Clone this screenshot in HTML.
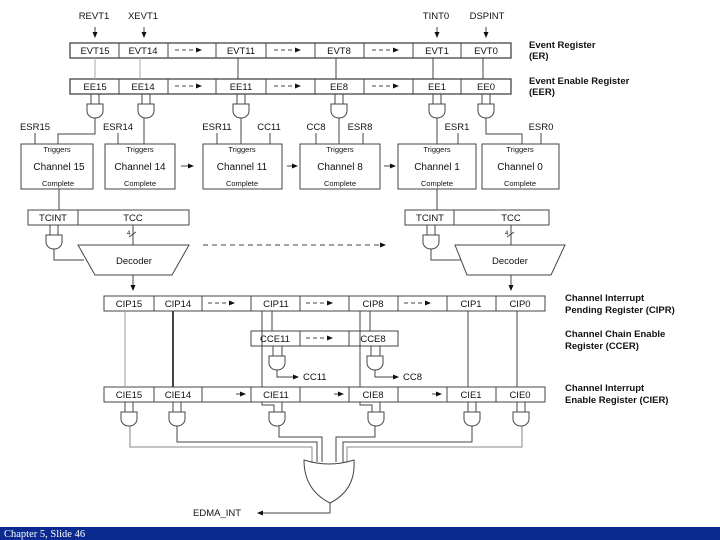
<!DOCTYPE html>
<html><head><meta charset="utf-8"><style>
html,body{margin:0;padding:0;background:#fff;}
svg{display:block;}
text{font-family:"Liberation Sans",Arial,sans-serif;fill:#111;}
.c{font-size:9.5px;text-anchor:middle;}
.s{font-size:7.5px;text-anchor:middle;}
.ch{font-size:10px;text-anchor:middle;}
.b{font-size:9.5px;font-weight:bold;}
</style></head><body>
<svg width="720" height="540" viewBox="0 0 720 540" xmlns="http://www.w3.org/2000/svg">
<defs>
<marker id="a" markerWidth="6" markerHeight="6" refX="5" refY="3" orient="auto"><path d="M0,0.5 L6,3 L0,5.5z" fill="#111"/></marker>
<g id="g"><path d="M-8,0 V7 A8,7 0 0 0 8,7 V0 Z" fill="#fff" stroke="#444" stroke-width="1"/></g>
</defs>
<g stroke="#444" fill="none" stroke-width="1">
<line x1="95" y1="27" x2="95" y2="37" marker-end="url(#a)"/>
<line x1="144" y1="27" x2="144" y2="37" marker-end="url(#a)"/>
<line x1="437" y1="27" x2="437" y2="37" marker-end="url(#a)"/>
<line x1="486" y1="27" x2="486" y2="37" marker-end="url(#a)"/>
<rect x="70" y="43" width="441" height="15" stroke-width="1.3"/>
<rect x="70" y="79" width="441" height="15" stroke-width="1.3"/>
<path d="M119,43V58M168,43V58M216,43V58M266,43V58M315,43V58M364,43V58M413,43V58M461,43V58"/>
<path d="M119,79V94M168,79V94M216,79V94M266,79V94M315,79V94M364,79V94M413,79V94M461,79V94"/>
<g stroke-dasharray="4,3">
<line x1="175" y1="50" x2="201" y2="50" marker-end="url(#a)"/>
<line x1="274" y1="50" x2="300" y2="50" marker-end="url(#a)"/>
<line x1="372" y1="50" x2="398" y2="50" marker-end="url(#a)"/>
<line x1="175" y1="86" x2="201" y2="86" marker-end="url(#a)"/>
<line x1="274" y1="86" x2="300" y2="86" marker-end="url(#a)"/>
<line x1="372" y1="86" x2="398" y2="86" marker-end="url(#a)"/>
</g>
<path d="M95,58V79M140,58V79" stroke="#aaa"/>
<path d="M238,58V79M336,58V79M433,58V79M483,58V79"/>
<path d="M91,94V104M99,94V104M142,94V104M150,94V104M237,94V104M245,94V104M335,94V104M343,94V104M433,94V104M441,94V104M482,94V104M490,94V104"/>
<path d="M95,118V134H58V144" />
<path d="M144,118V144"/>
<path d="M241,118V144"/>
<path d="M339,118V144"/>
<path d="M437,118V144"/>
<path d="M486,118V134H522V144"/>
<path d="M35,133V144M118,133V144M217,133V144M270,133V144M316,133V144M363,133V144M458,133V144M541,133V144"/>
<rect x="21" y="144" width="72" height="45"/>
<rect x="105" y="144" width="70" height="45"/>
<rect x="203" y="144" width="79" height="45"/>
<rect x="300" y="144" width="80" height="45"/>
<rect x="398" y="144" width="78" height="45"/>
<rect x="482" y="144" width="77" height="45"/>
<line x1="181" y1="166" x2="193" y2="166" marker-end="url(#a)"/>
<line x1="287" y1="166" x2="297" y2="166" marker-end="url(#a)"/>
<line x1="384" y1="166" x2="395" y2="166" marker-end="url(#a)"/>
<path d="M59,189V210M437,189V210"/>
<rect x="28" y="210" width="161" height="15"/>
<line x1="78" y1="210" x2="78" y2="225"/>
<rect x="405" y="210" width="144" height="15"/>
<line x1="454" y1="210" x2="454" y2="225"/>
<path d="M50,225V235M58,225V235M427,225V235M435,225V235"/>
<path d="M54,249V260H84M431,249V260H461"/>
<path d="M133,225V245M511,225V245"/>
<path d="M129,237l7,-5M507,237l7,-5"/>
<path d="M78,245H189L172,275H95Z"/>
<path d="M455,245H565L551,275H467Z"/>
<line x1="203" y1="245" x2="385" y2="245" stroke-dasharray="5,4" marker-end="url(#a)"/>
<line x1="133" y1="275" x2="133" y2="290" marker-end="url(#a)"/>
<line x1="511" y1="275" x2="511" y2="290" marker-end="url(#a)"/>
<rect x="104" y="296" width="441" height="15"/>
<path d="M154,296V311M202,296V311M251,296V311M300,296V311M349,296V311M398,296V311M447,296V311M496,296V311"/>
<g stroke-dasharray="4,3">
<line x1="208" y1="303" x2="234" y2="303" marker-end="url(#a)"/>
<line x1="306" y1="303" x2="332" y2="303" marker-end="url(#a)"/>
<line x1="404" y1="303" x2="430" y2="303" marker-end="url(#a)"/>
<line x1="306" y1="338" x2="332" y2="338" marker-end="url(#a)"/>
</g>
<rect x="251" y="331" width="147" height="15"/>
<path d="M300,331V346M349,331V346"/>
<rect x="104" y="387" width="441" height="15"/>
<path d="M154,387V402M202,387V402M251,387V402M300,387V402M349,387V402M398,387V402M447,387V402M496,387V402"/>
<line x1="236" y1="394" x2="245" y2="394" marker-end="url(#a)"/>
<line x1="334" y1="394" x2="343" y2="394" marker-end="url(#a)"/>
<line x1="432" y1="394" x2="441" y2="394" marker-end="url(#a)"/>
<path d="M125,311V387" stroke="#999"/>
<path d="M173,311V387" stroke-width="2"/>
<path d="M262,311V387M272,311V331M360,311V387M370,311V331M468,311V387M517,311V387"/>
<path d="M273,346V356M282,346V356M371,346V356M380,346V356"/>
<path d="M277,370V377H298" marker-end="url(#a)"/>
<path d="M375,370V377H398" marker-end="url(#a)"/>
<path d="M125,402V412M133,402V412M173,402V412M181,402V412M262,402V405H274V412M282,402V412M360,402V405H372V412M380,402V412M468,402V412M476,402V412M517,402V412M525,402V412"/>
<path d="M130,426V447H312V462" stroke="#888"/>
<path d="M177,426V442H317V462"/>
<path d="M279,426V437H322V462"/>
<path d="M375,426V437H336V462"/>
<path d="M472,426V442H343V462"/>
<path d="M522,426V447H347V462" stroke="#888"/>
<path d="M304,460 Q329,468 354,460 Q356,490 330,503 Q304,490 304,460Z" fill="#fff"/>
<path d="M330,503V513H258" marker-end="url(#a)"/>
</g>
<use href="#g" x="95" y="104"/><use href="#g" x="146" y="104"/><use href="#g" x="241" y="104"/>
<use href="#g" x="339" y="104"/><use href="#g" x="437" y="104"/><use href="#g" x="486" y="104"/>
<use href="#g" x="54" y="235"/><use href="#g" x="431" y="235"/>
<use href="#g" x="277" y="356"/><use href="#g" x="375" y="356"/>
<use href="#g" x="129" y="412"/><use href="#g" x="177" y="412"/><use href="#g" x="277" y="412"/>
<use href="#g" x="376" y="412"/><use href="#g" x="472" y="412"/><use href="#g" x="521" y="412"/>
<text class="c" x="94" y="19">REVT1</text><text class="c" x="143" y="19">XEVT1</text>
<text class="c" x="436" y="19">TINT0</text><text class="c" x="487" y="19">DSPINT</text>
<text class="c" x="95" y="54">EVT15</text><text class="c" x="143" y="54">EVT14</text><text class="c" x="241" y="54">EVT11</text><text class="c" x="339" y="54">EVT8</text><text class="c" x="437" y="54">EVT1</text><text class="c" x="486" y="54">EVT0</text>
<text class="c" x="95" y="90">EE15</text><text class="c" x="143" y="90">EE14</text><text class="c" x="241" y="90">EE11</text><text class="c" x="339" y="90">EE8</text><text class="c" x="437" y="90">EE1</text><text class="c" x="486" y="90">EE0</text>
<text class="c" x="35" y="130">ESR15</text><text class="c" x="118" y="130">ESR14</text><text class="c" x="217" y="130">ESR11</text><text class="c" x="269" y="130">CC11</text><text class="c" x="316" y="130">CC8</text><text class="c" x="360" y="130">ESR8</text><text class="c" x="457" y="130">ESR1</text><text class="c" x="541" y="130">ESR0</text>
<text class="s" x="57" y="152">Triggers</text><text class="ch" x="59" y="170">Channel 15</text><text class="s" x="58" y="186">Complete</text>
<text class="s" x="140" y="152">Triggers</text><text class="ch" x="140" y="170">Channel 14</text><text class="s" x="140" y="186">Complete</text>
<text class="s" x="242" y="152">Triggers</text><text class="ch" x="242" y="170">Channel 11</text><text class="s" x="242" y="186">Complete</text>
<text class="s" x="340" y="152">Triggers</text><text class="ch" x="340" y="170">Channel 8</text><text class="s" x="340" y="186">Complete</text>
<text class="s" x="437" y="152">Triggers</text><text class="ch" x="437" y="170">Channel 1</text><text class="s" x="437" y="186">Complete</text>
<text class="s" x="520" y="152">Triggers</text><text class="ch" x="520" y="170">Channel 0</text><text class="s" x="520" y="186">Complete</text>
<text class="c" x="53" y="221">TCINT</text><text class="c" x="133" y="221">TCC</text>
<text class="c" x="430" y="221">TCINT</text><text class="c" x="511" y="221">TCC</text>
<text style="font-size:6px" x="127" y="235">4</text><text style="font-size:6px" x="505" y="235">4</text>
<text class="c" x="134" y="264">Decoder</text><text class="c" x="510" y="264">Decoder</text>
<text class="c" x="129" y="307">CIP15</text><text class="c" x="178" y="307">CIP14</text><text class="c" x="276" y="307">CIP11</text><text class="c" x="373" y="307">CIP8</text><text class="c" x="471" y="307">CIP1</text><text class="c" x="520" y="307">CIP0</text>
<text class="c" x="275" y="342">CCE11</text><text class="c" x="373" y="342">CCE8</text>
<text style="font-size:9.5px" x="303" y="380">CC11</text><text style="font-size:9.5px" x="403" y="380">CC8</text>
<text class="c" x="129" y="398">CIE15</text><text class="c" x="178" y="398">CIE14</text><text class="c" x="276" y="398">CIE11</text><text class="c" x="373" y="398">CIE8</text><text class="c" x="471" y="398">CIE1</text><text class="c" x="520" y="398">CIE0</text>
<text style="font-size:9.5px" x="193" y="516">EDMA_INT</text>
<text class="b" x="529" y="48">Event Register</text><text class="b" x="529" y="59">(ER)</text>
<text class="b" x="529" y="84">Event Enable Register</text><text class="b" x="529" y="95">(EER)</text>
<text class="b" x="565" y="301">Channel Interrupt</text><text class="b" x="565" y="313">Pending Register (CIPR)</text>
<text class="b" x="565" y="337">Channel Chain Enable</text><text class="b" x="565" y="349">Register (CCER)</text>
<text class="b" x="565" y="391">Channel Interrupt</text><text class="b" x="565" y="403">Enable Register (CIER)</text>
<rect x="0" y="527" width="720" height="13" fill="#0a2a8f"/>
<text x="4" y="537" style="font-family:'Liberation Serif',serif;font-size:10.5px;fill:#fff">Chapter 5, Slide 46</text>
</svg>
</body></html>
